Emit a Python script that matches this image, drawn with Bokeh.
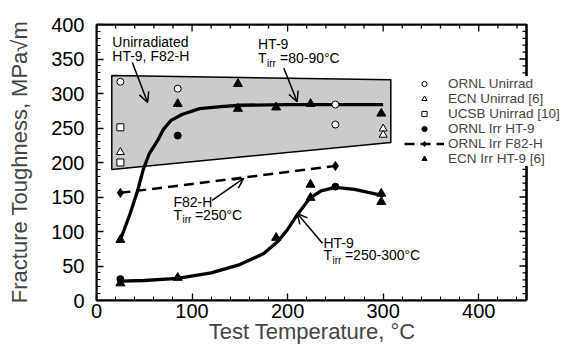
from bokeh.plotting import figure
from bokeh.models import (Range1d, SingleIntervalTicker, Label, Arrow, BoxAnnotation,
                          OpenHead, Legend, LegendItem)
from bokeh.embed import file_html
from bokeh.resources import INLINE

FONT = "Liberation Sans"

# ---- data ----
ornl_unirr_x = [25, 85, 250, 250]
ornl_unirr_y = [317, 307, 284, 255]
ecn_unirr_x = [25, 300, 300]
ecn_unirr_y = [215, 249, 240]
ucsb_unirr_x = [25, 25]
ucsb_unirr_y = [251, 200]
ornl_irr_ht9_x = [25, 85, 250]
ornl_irr_ht9_y = [31, 239, 165]
ornl_irr_f82h_x = [25, 250]
ornl_irr_f82h_y = [156, 195]
ecn_irr_ht9_x = [25, 25, 85, 85, 148, 148, 188, 188, 224, 224, 224, 298, 298, 298]
ecn_irr_ht9_y = [88, 25, 285, 33, 314, 278, 280, 91, 285, 168, 149, 271, 155, 143]

# unirradiated scatter band
band_x = [16, 308, 308, 16]
band_y = [326, 320, 229, 190]

# HT-9 Tirr=80-90C trend curve
curve_hi_x = [25, 35, 43, 49, 55, 64, 70, 78, 90, 108, 130, 150, 200, 250, 300]
curve_hi_y = [88, 125, 159, 190, 212, 232, 248, 261, 270, 278, 281, 283, 284, 284, 284]
# HT-9 Tirr=250-300C trend curve
curve_lo_x = [25, 50, 85, 120, 150, 175, 190, 200, 210, 223, 235, 250, 270, 300]
curve_lo_y = [28, 29, 32, 40, 52, 68, 86, 103, 124, 148, 159, 164, 161, 152]

x_min, x_max = 0, 450
y_min, y_max = 0, 400
x_ticks_interval = 100
y_ticks_interval = 50
n_minor = 5

FRAME_LEFT = 96
FIG_W = 564
FIG_H = 348
X_PX = 430.0 / 450.0      # px per degree
Y_PX = 276.0 / 400.0      # px per MPa*m^0.5
x_view_max = (FIG_W - FRAME_LEFT) / X_PX
y_view_max = y_max + 1.0 / Y_PX

p = figure(width=FIG_W, height=FIG_H, output_backend="svg", toolbar_location=None,
           x_range=Range1d(x_min, x_view_max), y_range=Range1d(y_min, y_view_max),
           min_border_left=FRAME_LEFT, min_border_right=0, min_border_top=23,
           min_border_bottom=48)
p.grid.visible = False
p.outline_line_color = None
p.background_fill_color = "white"
p.border_fill_color = "white"

MAJOR_IN, MINOR_IN = 7, 4

def style_axis(ax):
    ax.axis_line_width = 2
    ax.axis_line_color = "black"
    ax.major_tick_in = MAJOR_IN
    ax.major_tick_out = 0
    ax.minor_tick_in = MINOR_IN
    ax.minor_tick_out = 0
    ax.major_tick_line_width = 1.3
    ax.minor_tick_line_width = 1.1
    ax.major_tick_line_color = "black"
    ax.minor_tick_line_color = "black"
    ax.major_label_text_font = FONT
    ax.major_label_text_font_size = "20px"
    ax.major_label_text_color = "black"

xa = p.xaxis[0]
ya = p.yaxis[0]
xa.ticker = SingleIntervalTicker(interval=x_ticks_interval, num_minor_ticks=n_minor)
ya.ticker = SingleIntervalTicker(interval=y_ticks_interval, num_minor_ticks=n_minor)
style_axis(xa)
style_axis(ya)
xa.bounds = (x_min, x_max)
ya.bounds = (y_min, y_max)
xa.major_label_standoff = 3
xa.axis_label = "Test Temperature, \u00b0C" + "\u00a0" * 6
xa.axis_label_text_font = FONT
xa.axis_label_text_font_size = "22px"
xa.axis_label_text_font_style = "normal"
xa.axis_label_standoff = -2
ya.major_label_standoff = 12
ya.axis_label = "Fracture Toughness, MPa\u221am"
ya.axis_label_text_font = FONT
ya.axis_label_text_font_size = "22px"
ya.axis_label_text_font_style = "normal"
ya.axis_label_standoff = 16

# box around the data area [0,450] x [0,400] (frame itself extends further right for the legend)
p.add_layout(BoxAnnotation(left=x_min, right=x_max, bottom=y_min, top=y_max,
                           fill_alpha=0, fill_color=None, line_color="black",
                           line_width=2, line_alpha=1))

# mirrored top and right inward ticks (same tick spacing as the axes)
x_minor_step = x_ticks_interval // n_minor
y_minor_step = y_ticks_interval // n_minor
top_ticks = list(range(x_min + x_minor_step, x_max + 1, x_minor_step))
right_ticks = list(range(y_min + y_minor_step, y_max, y_minor_step))
tick_xs, tick_ys = [], []
for t in top_ticks:
    l = (MAJOR_IN if t % x_ticks_interval == 0 else MINOR_IN) / Y_PX
    tick_xs.append([t, t])
    tick_ys.append([y_max, y_max - l])
for t in right_ticks:
    l = (MAJOR_IN if t % y_ticks_interval == 0 else MINOR_IN) / X_PX
    tick_xs.append([x_max, x_max - l])
    tick_ys.append([t, t])
p.line(x=[x_min, x_max, x_max], y=[y_max, y_max, y_min], line_color="#000000",
       line_width=2.2)
p.multi_line(xs=tick_xs, ys=tick_ys, line_color="#000000", line_width=1.3)

# band
p.patch(band_x, band_y, fill_color="#cbcbcb", line_color="black", line_width=1.5)

# curves
p.line(curve_hi_x, curve_hi_y, line_color="black", line_width=3.3)
p.line(curve_lo_x, curve_lo_y, line_color="black", line_width=3.3)

# markers
r_ou = p.scatter(ornl_unirr_x, ornl_unirr_y, marker="circle", size=7,
                 fill_color="white", line_color="black", line_width=1)
r_eu = p.scatter(ecn_unirr_x, ecn_unirr_y, marker="triangle", size=8,
                 fill_color="white", line_color="black", line_width=1)
r_uu = p.scatter(ucsb_unirr_x, ucsb_unirr_y, marker="square", size=7,
                 fill_color="white", line_color="black", line_width=1)
r_oi = p.scatter(ornl_irr_ht9_x, ornl_irr_ht9_y, marker="circle", size=7,
                 fill_color="black", line_color="black")
r_fl = p.line(ornl_irr_f82h_x, ornl_irr_f82h_y, line_color="black", line_width=2.5,
              line_dash="10 6")
r_fd = p.scatter(ornl_irr_f82h_x, ornl_irr_f82h_y, marker="diamond", size=9,
                 fill_color="black", line_color="black")
r_ei = p.scatter(ecn_irr_ht9_x, ecn_irr_ht9_y, marker="triangle", size=9,
                 fill_color="black", line_color="black")

legend = Legend(items=[
    LegendItem(label="ORNL Unirrad", renderers=[r_ou]),
    LegendItem(label="ECN Unirrad [6]", renderers=[r_eu]),
    LegendItem(label="UCSB Unirrad [10]", renderers=[r_uu]),
    LegendItem(label="ORNL Irr HT-9", renderers=[r_oi]),
    LegendItem(label="ORNL Irr F82-H", renderers=[r_fl, r_fd]),
    LegendItem(label="ECN Irr HT-9 [6]", renderers=[r_ei]),
], location=(308, 134))
legend.label_text_font = FONT
legend.label_text_font_size = "13.5px"
legend.label_height = 13
legend.glyph_height = 13
legend.glyph_width = 40
legend.label_standoff = 4
legend.spacing = 0
legend.padding = 0
legend.margin = 0
legend.border_line_color = None
legend.background_fill_color = "white"
legend.background_fill_alpha = 1
p.add_layout(legend, "center")

def lab(x, y, text, size="14px", baseline="top"):
    p.add_layout(Label(x=x, y=y, text=text, text_font=FONT, text_font_size=size,
                       text_baseline=baseline, text_color="black"))

def arrow(x0, y0, x1, y1):
    p.add_layout(Arrow(x_start=x0, y_start=y0, x_end=x1, y_end=y1, line_width=1.5,
                       end=OpenHead(size=10, line_width=1.5)))

# annotation: unirradiated
lab(16.5, 386, "Unirradiated")
lab(16.5, 366, "HT-9, F82-H")
arrow(37.5, 345, 53.5, 287)

# annotation: HT-9 80-90
lab(169, 383, "HT-9")
lab(169, 363, "T")
lab(178.5, 352, "irr", size="10px")
lab(192, 363, "=80-90\u00b0C")
arrow(196, 337, 210, 288)

# annotation: F82-H 250
lab(80.5, 154, "F82-H")
lab(80.5, 136, "T")
lab(90, 125, "irr", size="10px")
lab(103, 136, "=250\u00b0C")
arrow(121, 145, 154, 177)

# annotation: HT-9 250-300
lab(237.5, 95, "HT-9")
lab(237.5, 77, "T")
lab(247, 66, "irr", size="10px")
lab(260, 77, "=250-300\u00b0C")
arrow(236.5, 83, 210, 126)

open("out.html", "w").write(file_html(p, INLINE))
